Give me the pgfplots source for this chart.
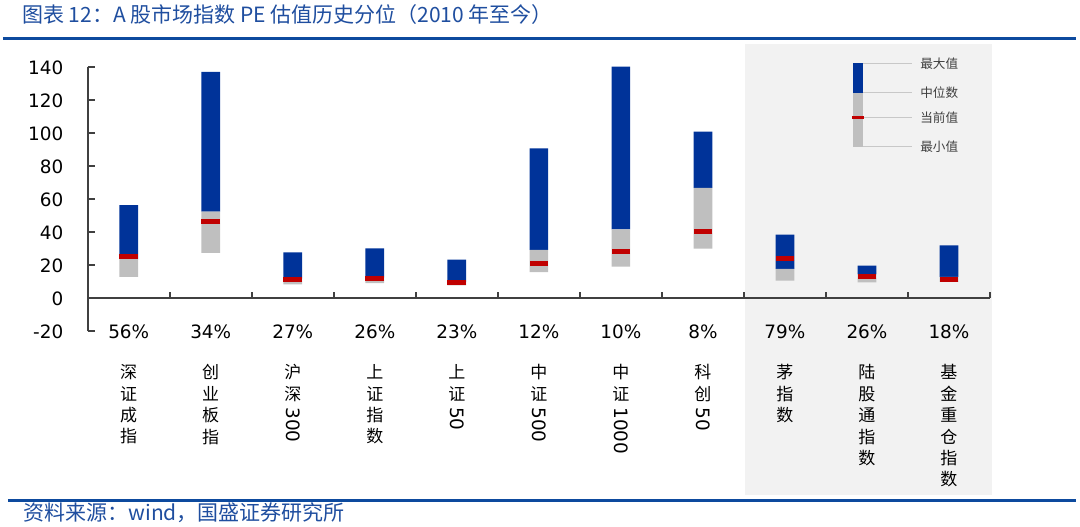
\documentclass[border=0pt]{standalone}
\usepackage{fontspec}
\usepackage{graphicx}
\usepackage{pgfplots}
\usepackage{pgfplotstable}
\pgfplotsset{compat=1.18}
\setmainfont{DejaVu Sans}
\newfontfamily\cjk{Noto Sans CJK SC}

\definecolor{pebar}{HTML}{003399}
\definecolor{pegray}{HTML}{BFBFBF}
\definecolor{pered}{HTML}{C00000}
\definecolor{panel}{HTML}{F2F2F2}
\definecolor{axgray}{HTML}{404040}
\definecolor{rule}{HTML}{0D4A9E}
\definecolor{txblue}{HTML}{1F4E9F}
\definecolor{legline}{HTML}{C8C8C8}

% PE: min, median, max, current (since 2010)
\pgfplotstableread{
idx min  med  max   cur
0   13.0 24.0 56.5  25.5
1   27.6 52.5 137.3 46.5
2   8.5  12.0 27.9  11.2
3   9.2  12.5 30.3  12.0
4   7.9  10.0 23.4  9.3
5   15.8 29.3 90.9  21.3
6   19.2 41.8 140.4 28.3
7   30.1 67.0 101.0 40.2
8   10.7 17.8 38.6  24.4
9   9.7  14.5 19.8  13.3
10  10.0 13.0 32.1  11.5
}\petable

\newsavebox\digbox
\DeclareRobustCommand{\dg}[1]{\sbox\digbox{\rmfamily\fontsize{9.2bp}{11bp}\selectfont #1}\raisebox{0.85em}{\rotatebox{-90}{\usebox\digbox}}}

\begin{document}
\begin{tikzpicture}
\useasboundingbox (0,0) rectangle (540bp,-263.5bp);

\begin{scope}[x=0.5bp,y=-0.5bp]
  % grey panel behind the last three indices
  \fill[panel] (745,44) rectangle (991.7,495);
  % header / footer rules
  \draw[rule, line width=1.5bp] (3,38.5) -- (1076,38.5);
  \draw[rule, line width=1.5bp] (8,500.5) -- (1076,500.5);
  \node[anchor=west, inner sep=0, text=txblue, font=\cjk\fontsize{10.5bp}{12bp}\selectfont]
    at (21.7,15) {图表 12：A 股市场指数 PE 估值历史分位（2010 年至今）};
  \node[anchor=west, inner sep=0, text=txblue, font=\cjk\fontsize{10.5bp}{12bp}\selectfont]
    at (23,513) {资料来源：wind，国盛证券研究所};
  % legend key
  \draw[legline, line width=0.5bp] (853.5,63.3) -- (911.7,63.3);
  \draw[legline, line width=0.5bp] (853.5,92.7) -- (911.7,92.7);
  \draw[legline, line width=0.5bp] (853.5,117.7) -- (911.7,117.7);
  \draw[legline, line width=0.5bp] (853.5,146.7) -- (911.7,146.7);
  \fill[pebar] (853.5,63.3) rectangle (862.7,92.7);
  \fill[pegray] (853.5,92.7) rectangle (862.7,146.7);
  \draw[pered, line width=1.2bp] (852,117.7) -- (864.5,117.7);
  \begin{scope}[every node/.style={anchor=west, inner sep=0, text=axgray, font=\cjk\fontsize{6.3bp}{7bp}\selectfont}]
    \node at (920,63.3) {最大值};
    \node at (920,92.7) {中位数};
    \node at (920,117.7) {当前值};
    \node at (920,146.7) {最小值};
  \end{scope}
\end{scope}

\begin{axis}[
    at={(43.85bp,-165.65bp)}, anchor=south west,
    scale only axis, width=451.15bp, height=132bp,
    xmin=-0.5, xmax=10.5, ymin=-20, ymax=140,
    enlargelimits=false, clip=false,
    ybar stacked, bar width=9.35bp,
    axis x line=none, axis y line=left,
    y axis line style={-, draw=axgray, line width=1bp},
    xtick=\empty,
    ytick={-20,0,...,140},
    ytick align=inside, major tick length=3.5bp,
    tick style={draw=axgray, line width=1bp},
    /pgf/number format/assume math mode=true,
    yticklabel style={font=\fontsize{9.2bp}{11bp}\selectfont, inner sep=0pt, xshift=-12bp},
]
\addplot[draw=none, fill=none] table[x=idx, y=min] {\petable};
\addplot[draw=none, fill=pegray] table[x=idx, y expr=\thisrow{med}-\thisrow{min}] {\petable};
\addplot[draw=none, fill=pebar] table[x=idx, y expr=\thisrow{max}-\thisrow{med}] {\petable};

\draw[axgray, line width=1bp] (axis cs:-0.5,0) -- (axis cs:10.5,0);
\pgfplotsinvokeforeach{0,...,10}{
  \coordinate (c#1) at (axis cs:#1,-20);
  \coordinate (t#1) at (axis cs:#1.5,0);
}
\end{axis}

% current PE marks, overlaid on the same geometry
\begin{axis}[
    at={(43.85bp,-165.65bp)}, anchor=south west,
    scale only axis, width=451.15bp, height=132bp,
    xmin=-0.5, xmax=10.5, ymin=-20, ymax=140,
    enlargelimits=false, clip=false, hide axis,
]
\addplot[only marks, mark=-, mark size=4.675bp,
  mark options={draw=pered, line width=2.5bp}] table[x=idx, y=cur] {\petable};
\end{axis}

\foreach \k in {0,...,10} {
  \draw[axgray, line width=1bp] (t\k) -- ++(0pt,3bp);
}
\begin{scope}[every node/.style={inner sep=0, font=\fontsize{9.2bp}{11bp}\selectfont}]
\node at (c0) {56\%};
\node at (c1) {34\%};
\node at (c2) {27\%};
\node at (c3) {26\%};
\node at (c4) {23\%};
\node at (c5) {12\%};
\node at (c6) {10\%};
\node at (c7) {8\%};
\node at (c8) {79\%};
\node at (c9) {26\%};
\node at (c10) {18\%};
\end{scope}

\begin{scope}[every node/.style={anchor=north, inner sep=0, align=center, yshift=-16.5bp,
    font=\cjk\fontsize{8.5bp}{10.7bp}\selectfont}]
\node at (c0) {深\\证\\成\\指};
\node at (c1) {创\\业\\板\\指};
\node at (c2) {沪\\深\\\dg{300}};
\node at (c3) {上\\证\\指\\数};
\node at (c4) {上\\证\\\dg{50}};
\node at (c5) {中\\证\\\dg{500}};
\node at (c6) {中\\证\\\dg{1000}};
\node at (c7) {科\\创\\\dg{50}};
\node at (c8) {茅\\指\\数};
\node at (c9) {陆\\股\\通\\指\\数};
\node at (c10) {基\\金\\重\\仓\\指\\数};
\end{scope}
\end{tikzpicture}
\end{document}
